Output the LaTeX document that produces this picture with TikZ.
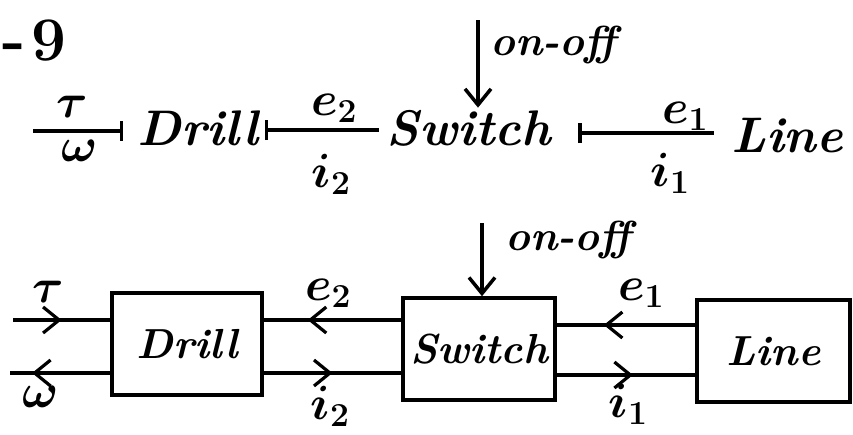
\RequirePackage{fix-cm}
\documentclass[tikz,border=0pt]{standalone}
\usetikzlibrary{arrows.meta,decorations.markings,calc}
\tikzset{
  lw/.style={line width=3.5pt},
  bond/.style={lw},
  lbl/.style={inner sep=1pt, font=\fontsize{48}{52}\selectfont\boldmath},
  word/.style={anchor=base, inner sep=2pt, font=\fontsize{50}{56}\selectfont\bfseries\itshape},
  ctrl/.style={anchor=base west, inner sep=0pt, font=\fontsize{42}{46}\selectfont\bfseries\itshape},
  blockbox/.style={draw, lw, minimum height=102pt, inner sep=0pt, font=\fontsize{42}{46}\selectfont\bfseries\itshape},
  flow/.style={lw, postaction={decorate}, decoration={markings, mark=at position #1 with {\arrow{Straight Barb[length=16pt,width=26pt,line width=3.2pt]}}}},
  flow/.default=0.5,
  barb/.style={lw, -{Straight Barb[length=16pt,width=26pt]}},
}
\begin{document}
\begin{tikzpicture}[x=1pt,y=-1pt]
\useasboundingbox (0,0) rectangle (853,434);

% figure number
\node[anchor=base west, inner sep=0pt, font=\fontsize{62}{66}\selectfont\bfseries] (fig) at (2,60) {-\hspace{6pt}9};

% ---------------- top row (bond graph) ----------------
\node[word] (Drill) at (198,145) {Drill};
\node[word] (Switch) at (469,145) {Switch};
\node[word] (Line) at (787,152) {Line};

\coordinate (tauin) at (33,131);
\draw[bond, -{Bar[width=20pt]}, shorten >=12pt] (tauin) -- (tauin -| Drill.west);
\draw[bond, {Bar[width=20pt]}-, shorten <=4pt, shorten >=6pt]
  ([yshift=15pt]Drill.base east) -- ([yshift=15pt]Drill.base east -| Switch.west);
\draw[bond, {Bar[width=20pt]}-, shorten <=25pt, shorten >=15pt]
  ([yshift=12pt]Switch.base east) -- ([yshift=12pt]Switch.base east -| Line.west);

\node[lbl] (tauT) at (72,107) {$\tau$};
\node[lbl] (omT) at (80,151) {$\omega$};
\node[lbl] (e2T) at (334,108) {$e_2$};
\node[lbl] (i2T) at (331,174) {$i_2$};
\node[lbl] (e1T) at (685,116) {$e_1$};
\node[lbl] (i1T) at (670,173) {$i_1$};

\coordinate (onT) at (478,20);
\draw[barb] (onT) -- (onT |- Switch.north);
\node[ctrl] (onoffT) at (490,55) {on-off};

% ---------------- bottom row (block diagram) ----------------
\node[blockbox, minimum width=150pt] (DrillB) at (187,344) {Drill};
\node[blockbox, minimum width=152pt] (SwitchB) at (479,349) {Switch};
\node[blockbox, minimum width=153pt] (LineB) at (773.5,351) {Line};

\coordinate (tauB) at (13,320);
\coordinate (omB) at (10,373);
\draw[flow=0.5] (tauB) -- (tauB -| DrillB.west);
\draw[flow=0.78] (omB -| DrillB.west) -- (omB);
\draw[flow=0.68] (SwitchB.west |- tauB) -- (DrillB.east |- tauB);
\draw[flow=0.5] (DrillB.east |- omB) -- (SwitchB.west |- omB);
\draw[flow=0.66] ([yshift=26pt]LineB.west) -- ([yshift=26pt]LineB.west -| SwitchB.east);
\draw[flow=0.55] ([yshift=-26pt]SwitchB.east) -- ([yshift=-26pt]SwitchB.east -| LineB.west);

\node[lbl] (tauBL) at (48,292) {$\tau$};
\node[lbl] (omBL) at (41,397) {$\omega$};
\node[lbl] (e2B) at (328,293) {$e_2$};
\node[lbl] (i2B) at (330,406) {$i_2$};
\node[lbl] (e1B) at (641,293) {$e_1$};
\node[lbl] (i1B) at (628,404) {$i_1$};

\coordinate (onB) at (482,223);
\draw[barb] (onB) -- (onB |- SwitchB.north);
\node[ctrl] (onoffB) at (505,250) {on-off};
\end{tikzpicture}
\end{document}
